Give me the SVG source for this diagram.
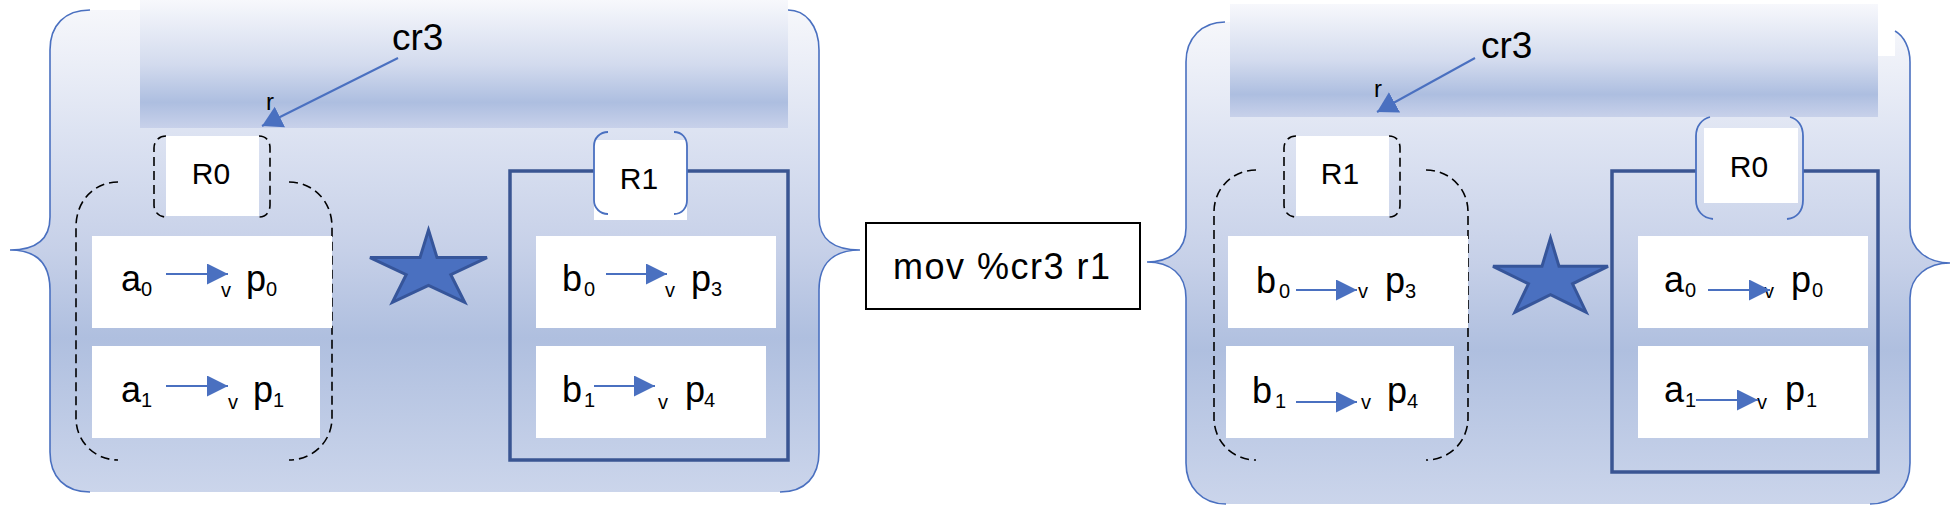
<svg xmlns="http://www.w3.org/2000/svg" width="1950" height="514" viewBox="0 0 1950 514">
<defs>
<linearGradient id="bg" x1="0" y1="0" x2="0" y2="1">
<stop offset="0" stop-color="#f6f7fb"/>
<stop offset="0.25" stop-color="#dde3f2"/>
<stop offset="0.5" stop-color="#c6d0e8"/>
<stop offset="0.68" stop-color="#afbfdf"/>
<stop offset="1" stop-color="#cbd5eb"/>
</linearGradient>
<linearGradient id="top" x1="0" y1="0" x2="0" y2="1">
<stop offset="0" stop-color="#f7f8fc"/>
<stop offset="0.5" stop-color="#d3dbee"/>
<stop offset="0.8" stop-color="#adbee0"/>
<stop offset="1" stop-color="#c8d1ea"/>
</linearGradient>
<marker id="head" markerUnits="userSpaceOnUse" markerWidth="22" markerHeight="22" refX="21" refY="10.5" orient="auto" viewBox="0 0 22 22">
<path d="M0,0 L21,10.5 L0,21 Z" fill="#4a70c0"/>
</marker>
<marker id="head2" markerUnits="userSpaceOnUse" markerWidth="24" markerHeight="24" refX="20" refY="11.5" orient="auto" viewBox="0 0 24 24">
<path d="M0,0 L20,11.5 L0,23 Z" fill="#4a70c0"/>
</marker>
</defs>
<style>
.t{font-family:"Liberation Sans",Arial,sans-serif;fill:#000}
.big{font-size:36px}
.sub{font-size:20px}
.lbl{font-size:30px}
.cr{font-size:37px}
.rr{font-size:24px}
.brace{fill:none;stroke:#4a70c0;stroke-width:1.6}
.dash{fill:none;stroke:#000;stroke-width:1.6;stroke-dasharray:9 5}
.bbr{fill:none;stroke:#4a70c0;stroke-width:1.8}
.navy{fill:none;stroke:#3a5592;stroke-width:3.5}
.wbox{fill:#fff}
.star{fill:#4a70c0;stroke:#36559a;stroke-width:3;stroke-linejoin:miter}
.arr{stroke:#4a70c0;stroke-width:2;fill:none}
</style>

<!-- Left panel -->
<g id="panel-left">
<path fill="url(#bg)" d="M90,10 L788,10 C805,10 819,25 819,50 L819,217 C819,240 835,250 860,250 C835,250 819,262 819,290 L819,452 C819,477 805,492 780,492 L90,492 C65,492 50,477 50,452 L50,290 C50,262 35,250 10,250 C35,250 50,240 50,217 L50,50 C50,25 65,10 90,10 Z"/>
<path class="brace" d="M90,10 C65,10 50,25 50,50 L50,217 C50,240 35,250 10,250 C35,250 50,262 50,290 L50,452 C50,477 65,492 90,492"/>
<path class="brace" d="M788,10 C805,10 819,25 819,50 L819,217 C819,240 835,250 860,250 C835,250 819,262 819,290 L819,452 C819,477 805,492 780,492"/>
<rect x="140" y="0" width="648" height="128" fill="url(#top)"/>
<text class="t cr" x="392" y="50">cr3</text>
<text class="t rr" x="266" y="110">r</text>
</g>

<g id="left-R0-group">
<path class="dash" d="M118,182 C95,182 76,200 76,227 L76,418 C76,442 95,460 118,460"/>
<path class="dash" d="M289,182 C312,182 332,200 332,227 L332,418 C332,442 312,460 289,460"/>
<rect class="wbox" x="166" y="136" width="93" height="80"/>
<path class="dash" d="M166,136 C159,136 154,141 154,148 L154,205 C154,212 159,217 166,217"/>
<path class="dash" d="M259,136 C266,136 270,141 270,148 L270,205 C270,212 266,217 259,217"/>
<text class="t lbl" x="211" y="184" text-anchor="middle">R0</text>
</g>

<g id="left-a0">
<rect class="wbox" x="92" y="236" width="240" height="92"/>
<text class="t big" x="121" y="291">a</text>
<text class="t sub" x="141" y="296">0</text>
<text class="t sub" x="221" y="297">v</text>
<text class="t big" x="246" y="291">p</text>
<text class="t sub" x="266" y="296">0</text>
</g>
<g id="left-a1">
<rect class="wbox" x="92" y="346" width="228" height="92"/>
<text class="t big" x="121" y="402">a</text>
<text class="t sub" x="141" y="407">1</text>
<text class="t sub" x="228" y="409">v</text>
<text class="t big" x="253" y="402">p</text>
<text class="t sub" x="273" y="407">1</text>
</g>

<g id="left-star">
<polygon class="star" points="428.5,230 437,257.6 487,257.6 450.8,274.7 464.7,302.4 428.5,285.3 392.4,302.4 406.2,274.7 370,257.6 420,257.6"/>
</g>

<g id="left-R1-group">
<path class="navy" d="M594,171 L510,171 L510,460 L788,460 L788,171 L687,171"/>
<rect class="wbox" x="594" y="140" width="93" height="80"/>
<path class="bbr" d="M608,132 C600,132 594,138 594,146 L594,200 C594,208 600,214 608,214"/>
<path class="bbr" d="M674,132 C682,132 687,138 687,146 L687,200 C687,208 682,214 674,214"/>
<text class="t lbl" x="639" y="189" text-anchor="middle">R1</text>
</g>
<g id="left-b0">
<rect class="wbox" x="536" y="236" width="240" height="92"/>
<text class="t big" x="562" y="291">b</text>
<text class="t sub" x="584" y="296">0</text>
<text class="t sub" x="665" y="297">v</text>
<text class="t big" x="691" y="291">p</text>
<text class="t sub" x="711" y="296">3</text>
</g>
<g id="left-b1">
<rect class="wbox" x="536" y="346" width="230" height="92"/>
<text class="t big" x="562" y="402">b</text>
<text class="t sub" x="584" y="407">1</text>
<text class="t sub" x="658" y="409">v</text>
<text class="t big" x="685" y="402">p</text>
<text class="t sub" x="704" y="407">4</text>
</g>

<!-- Center instruction -->
<g id="instruction">
<rect x="866" y="223" width="274" height="86" fill="#fff" stroke="#000" stroke-width="2"/>
<text class="t" x="1001.5" y="279" font-size="36" text-anchor="middle" textLength="217" lengthAdjust="spacing">mov %cr3 r1</text>
</g>

<!-- Right panel -->
<g id="panel-right">
<path fill="url(#bg)" d="M1225,22 L1878,22 L1878,56 L1895,56 L1895,31 C1904,36 1910,48 1910,62 L1910,228 C1910,250 1928,263 1950,263 C1928,263 1910,276 1910,298 L1910,463 C1910,487 1895,504 1870,504 L1226,504 C1202,504 1186,487 1186,463 L1186,298 C1186,274 1170,262 1147,262 C1170,262 1186,250 1186,228 L1186,62 C1186,38 1202,22 1225,22 Z"/>
<path class="brace" d="M1225,22 C1202,22 1186,38 1186,62 L1186,228 C1186,250 1170,262 1147,262 C1170,262 1186,274 1186,298 L1186,463 C1186,487 1202,504 1226,504"/>
<path class="brace" d="M1895,31 C1904,36 1910,48 1910,62 L1910,228 C1910,250 1928,263 1950,263 C1928,263 1910,276 1910,298 L1910,463 C1910,487 1895,504 1870,504"/>
<rect x="1230" y="4" width="648" height="113" fill="url(#top)"/>
<text class="t cr" x="1481" y="58">cr3</text>
<text class="t rr" x="1374" y="97">r</text>
</g>

<g id="right-R1-group">
<path class="dash" d="M1256,170 C1233,170 1214,188 1214,212 L1214,418 C1214,442 1233,460 1256,460"/>
<path class="dash" d="M1426,170 C1449,170 1468,188 1468,212 L1468,418 C1468,442 1449,460 1426,460"/>
<rect class="wbox" x="1296" y="136" width="93" height="80"/>
<path class="dash" d="M1296,136 C1289,136 1284,141 1284,148 L1284,205 C1284,212 1289,217 1296,217"/>
<path class="dash" d="M1389,136 C1396,136 1400,141 1400,148 L1400,205 C1400,212 1396,217 1389,217"/>
<text class="t lbl" x="1340" y="184" text-anchor="middle">R1</text>
</g>
<g id="right-b0">
<rect class="wbox" x="1228" y="236" width="240" height="92"/>
<text class="t big" x="1256" y="293">b</text>
<text class="t sub" x="1279" y="298">0</text>
<text class="t sub" x="1358" y="298">v</text>
<text class="t big" x="1385" y="293">p</text>
<text class="t sub" x="1405" y="298">3</text>
</g>
<g id="right-b1">
<rect class="wbox" x="1226" y="346" width="228" height="92"/>
<text class="t big" x="1252" y="403">b</text>
<text class="t sub" x="1275" y="408">1</text>
<text class="t sub" x="1361" y="409">v</text>
<text class="t big" x="1387" y="403">p</text>
<text class="t sub" x="1407" y="408">4</text>
</g>

<g id="right-star">
<polygon class="star" points="1550.5,238 1559,266.3 1608,266.3 1572.5,283.8 1586.1,312.2 1550.5,294.7 1514.9,312.2 1528.5,283.8 1493,266.3 1542,266.3"/>
</g>

<g id="right-R0-group">
<path class="navy" d="M1696,171 L1612,171 L1612,472 L1878,472 L1878,171 L1803,171"/>
<rect class="wbox" x="1704" y="128" width="94" height="75"/>
<path class="bbr" d="M1710,117 C1702,119 1696,126 1696,136 L1696,200 C1696,211 1703,218 1713,219"/>
<path class="bbr" d="M1790,117 C1798,119 1803,126 1803,136 L1803,200 C1803,211 1797,218 1787,219"/>
<text class="t lbl" x="1749" y="177" text-anchor="middle">R0</text>
</g>
<g id="right-a0">
<rect class="wbox" x="1638" y="236" width="230" height="92"/>
<text class="t big" x="1664" y="292">a</text>
<text class="t sub" x="1685" y="297">0</text>
<text class="t sub" x="1764" y="298">v</text>
<text class="t big" x="1791" y="292">p</text>
<text class="t sub" x="1812" y="297">0</text>
</g>
<g id="right-a1">
<rect class="wbox" x="1638" y="346" width="230" height="92"/>
<text class="t big" x="1664" y="402">a</text>
<text class="t sub" x="1685" y="407">1</text>
<text class="t sub" x="1757" y="409">v</text>
<text class="t big" x="1785" y="402">p</text>
<text class="t sub" x="1806" y="407">1</text>
</g>

<!-- Connectors -->
<g id="connectors">
<line class="arr" x1="398" y1="58" x2="262" y2="126" marker-end="url(#head2)"/>
<line class="arr" x1="1475" y1="58" x2="1377" y2="112" marker-end="url(#head2)"/>
<line class="arr" x1="166" y1="274" x2="228" y2="274" marker-end="url(#head)"/>
<line class="arr" x1="166" y1="386" x2="228" y2="386" marker-end="url(#head)"/>
<line class="arr" x1="606" y1="274" x2="667" y2="274" marker-end="url(#head)"/>
<line class="arr" x1="594" y1="386" x2="655" y2="386" marker-end="url(#head)"/>
<line class="arr" x1="1296" y1="290" x2="1357" y2="290" marker-end="url(#head)"/>
<line class="arr" x1="1296" y1="402" x2="1357" y2="402" marker-end="url(#head)"/>
<line class="arr" x1="1708" y1="290" x2="1770" y2="290" marker-end="url(#head)"/>
<line class="arr" x1="1696" y1="400" x2="1758" y2="400" marker-end="url(#head)"/>
</g>
</svg>
